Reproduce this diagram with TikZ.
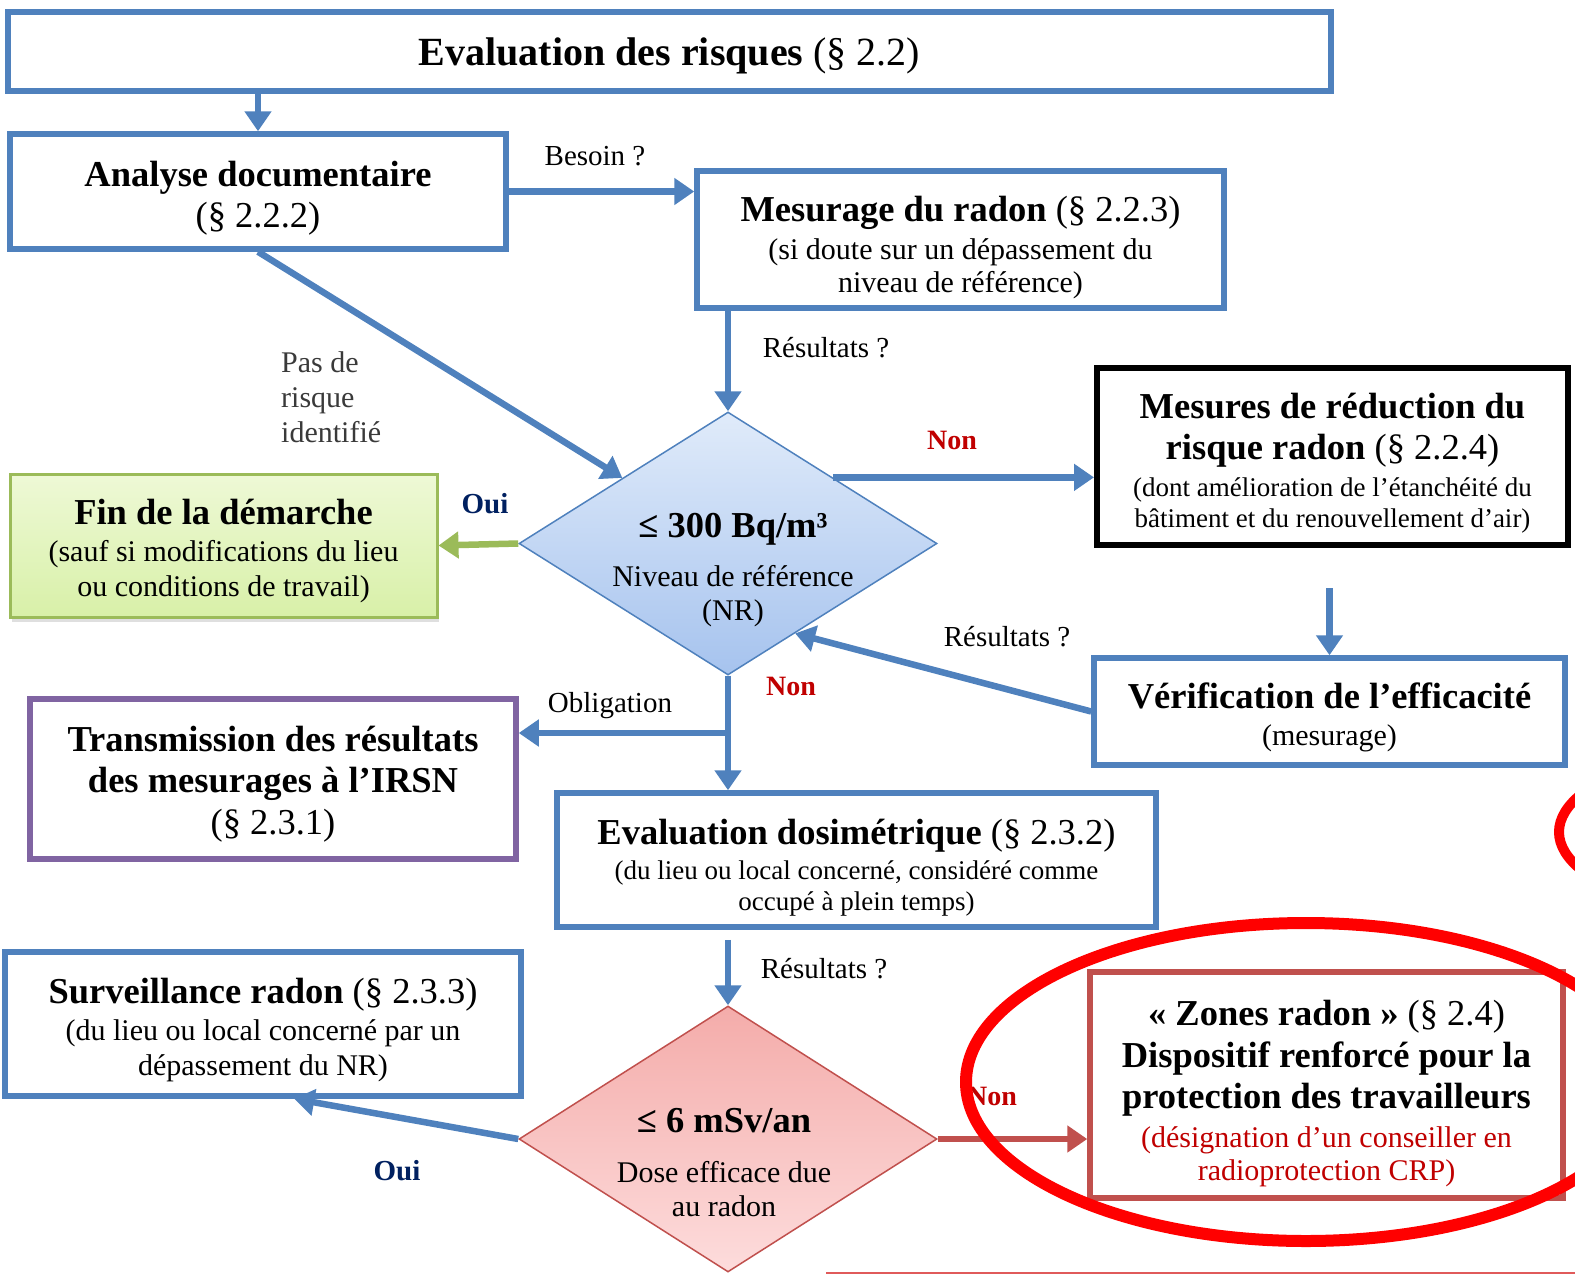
\documentclass[tikz,border=0pt]{standalone}
\usepackage{fontspec}
\setmainfont{Liberation Serif}
\usetikzlibrary{shapes.geometric,arrows.meta,calc,shadows}
\definecolor{bl}{HTML}{4F81BD}
\definecolor{gr}{HTML}{9BBB59}
\definecolor{pu}{HTML}{8064A2}
\definecolor{rb}{HTML}{C0504D}
\definecolor{dred}{HTML}{C00000}
\definecolor{navy}{HTML}{002060}
\definecolor{finA}{HTML}{EEF9D6}
\definecolor{finB}{HTML}{D8F0A8}
\definecolor{dA}{HTML}{E0EBFA}
\definecolor{dB}{HTML}{A6C3EE}
\definecolor{eA}{HTML}{F4ACAA}
\definecolor{eB}{HTML}{FDDCDC}
\definecolor{lblgray}{HTML}{3A3A3A}
\definecolor{bline}{HTML}{E05A5A}
\newcommand\fA{\fontsize{36.5}{40}\selectfont}
\newcommand\fB{\fontsize{30}{33}\selectfont}
\newcommand\fC{\fontsize{27}{31}\selectfont}
\newcommand\fL{\fontsize{29}{33}\selectfont}
\newcommand\tup[1]{\rule{0pt}{#1pt}}
\begin{document}
\begin{tikzpicture}[x=1pt,y=-1pt,
  box/.style={draw=bl, line width=5.5pt, fill=white, align=center, inner sep=0pt, text=black},
  arr/.style={draw=bl, line width=6.5pt, -{Triangle[length=20pt,width=26pt]}},
  arrG/.style={draw=gr, line width=6.5pt, -{Triangle[length=20pt,width=26pt]}},
  arrR/.style={draw=rb, line width=6.5pt, -{Triangle[length=20pt,width=26pt]}},
  lbl/.style={font=\fL, text=black, inner sep=0pt},
  nonl/.style={font=\fontsize{28}{32}\selectfont\bfseries, text=dred, inner sep=0pt},
  ouil/.style={font=\fontsize{29}{32}\selectfont\bfseries, text=navy, inner sep=0pt}]
\useasboundingbox (0,0) rectangle (1575,1275);

% boxes
\node[box, minimum width=1323pt, minimum height=79pt, font=\fontsize{40}{44}\selectfont] (top) at (669.5,51.5) {\tup{37}\textbf{Evaluation des risques} (§ 2.2)};
\node[box, minimum width=496pt, minimum height=115pt, font=\fA] (ana) at (258,191.5) {\tup{38}\textbf{Analyse documentaire}\\[1pt] (§ 2.2.2)};
\node[box, minimum width=527pt, minimum height=137pt, font=\fB] (mes) at (960.5,239.5) {{\fA\tup{42}\textbf{Mesurage du radon} (§ 2.2.3)}\\[5pt] (si doute sur un dépassement du\\ niveau de référence)};
\node[box, draw=black, line width=6pt, minimum width=471pt, minimum height=177pt, font=\fC] (mesr) at (1332.5,456.5) {{\fA\tup{38}\bfseries Mesures de réduction du}\\[10pt] {\fA\textbf{risque radon} (§ 2.2.4)}\\[6pt] (dont amélioration de l’étanchéité du\\ bâtiment et du renouvellement d’air)};
\node[box, minimum width=471pt, minimum height=107pt, font=\fB] (verif) at (1329.5,711.5) {{\fA\tup{38}\bfseries Vérification de l’efficacité}\\[4pt] (mesurage)};
\node[box, draw=gr, line width=3pt, top color=finA, bottom color=finB, drop shadow={opacity=0.25, shadow xshift=2pt, shadow yshift=-5pt}, minimum width=427pt, minimum height=143pt, font=\fB] (fin) at (223.5,545.5) {{\fA\tup{36}\bfseries Fin de la démarche}\\[4pt] (sauf si modifications du lieu\\[2pt] ou conditions de travail)};
\node[box, draw=pu, minimum width=486pt, minimum height=160pt, font=\fA] (transm) at (273,779) {\tup{36}\textbf{Transmission des résultats}\\[1pt] \textbf{des mesurages à l’IRSN}\\[2pt] (§ 2.3.1)};
\node[box, minimum width=599pt, minimum height=134pt, font=\fC] (evald) at (856.5,860) {{\fA\tup{40}\textbf{Evaluation dosimétrique} (§ 2.3.2)}\\[4pt] (du lieu ou local concerné, considéré comme\\ occupé à plein temps)};
\node[box, minimum width=516pt, minimum height=144pt, font=\fB] (surv) at (263,1024) {{\fA\tup{38}\textbf{Surveillance radon} (§ 2.3.3)}\\[4pt] (du lieu ou local concerné par un\\[2pt] dépassement du NR)};
\node[box, draw=rb, minimum width=473pt, minimum height=226pt, font=\fA] (zones) at (1326.5,1085) {\tup{42}\textbf{« Zones radon »} (§ 2.4)\\[2pt] \textbf{Dispositif renforcé pour la}\\[1pt] \textbf{protection des travailleurs}\\[-1pt] {\fB\color{dred}(désignation d’un conseiller en}\\[-7pt] {\fB\color{dred}radioprotection CRP)}};

% diamonds
\node[diamond, draw=bl, line width=1.5pt, top color=dA, bottom color=dB, minimum width=418pt, minimum height=263pt, inner sep=0pt] (d1) at (728,543.5) {};
\node[font=\fB, align=center, inner sep=0pt] (d1t) at (733,570) {{\fA\bfseries ≤ 300 Bq/m³}\\[16pt] Niveau de référence\\[1pt] (NR)};
\node[diamond, draw=rb, line width=1.5pt, top color=eA, bottom color=eB, minimum width=418pt, minimum height=266pt, inner sep=0pt] (d2) at (728,1139) {};
\node[font=\fB, align=center, inner sep=0pt] (d2t) at (724,1163) {{\fA\bfseries ≤ 6 mSv/an}\\[17pt] Dose efficace due\\[1pt] au radon};

% connectors
\draw[arr] (ana.north |- top.south) -- (ana.north);
\draw[arr] (ana.east) -- (ana.east -| mes.west);
\draw[arr] (d1.north |- mes.south) -- (d1.north);
\draw[arr] (ana.south) -- (d1);
\draw[arr] (d1.north east) -- (d1.north east -| mesr.west);
\draw[arr] ($(verif.north |- mesr.south)+(0,40)$) -- (verif.north);
\coordinate (d1in) at ($(d1.east)!0.68!(d1.south)$);
\draw[arr] (verif.west) -- (d1in);
\draw[arrG] (d1.west) -- (fin.east);
\draw[arr] (d1.south) -- (d1.south |- evald.north);
\coordinate (br) at ($(d1.south)!0.5!(d1.south |- evald.north)$);
\draw[arr] (br) -- (br -| transm.east);
\draw[arr] ($(d2.north |- evald.south)+(0,10)$) -- (d2.north);
\coordinate (survin) at ($(surv.south west)!0.56!(surv.south east)$);
\draw[arr] (d2.west) -- (survin);
\draw[arrR] (d2.east) -- (d2.east -| zones.west);

% labels
\node[lbl] (lbesoin) at (595,156) {Besoin ?};
\node[lbl] (lres1) at (826,348) {Résultats ?};
\node[lbl, text=lblgray, align=left, anchor=west, font=\fontsize{30}{35}\selectfont] (lpas) at (281,397) {Pas de\\ risque\\ identifié};
\node[nonl] (lnon1) at (952,440) {Non};
\node[ouil] (loui1) at (485,504) {Oui};
\node[lbl] (lres2) at (1007,637) {Résultats ?};
\node[lbl] (loblig) at (610,706) {Obligation};
\node[nonl] (lnon2) at (791,686) {Non};
\node[lbl] (lres3) at (824,969) {Résultats ?};
\node[ouil] (loui2) at (397,1171) {Oui};
\node[nonl] (lnon3) at (992,1096) {Non};

% red highlight marks
\begin{scope}
\clip (0,0) rectangle (1575,1275);
\draw[red, line width=12pt] (1306,1082) ellipse [x radius=340, y radius=159];
\draw[red, line width=10pt] (1859,832) ellipse [x radius=300, y radius=100];
\draw[bline, line width=2.5pt] (826,1273) -- (1575,1273);
\end{scope}
\end{tikzpicture}
\end{document}
